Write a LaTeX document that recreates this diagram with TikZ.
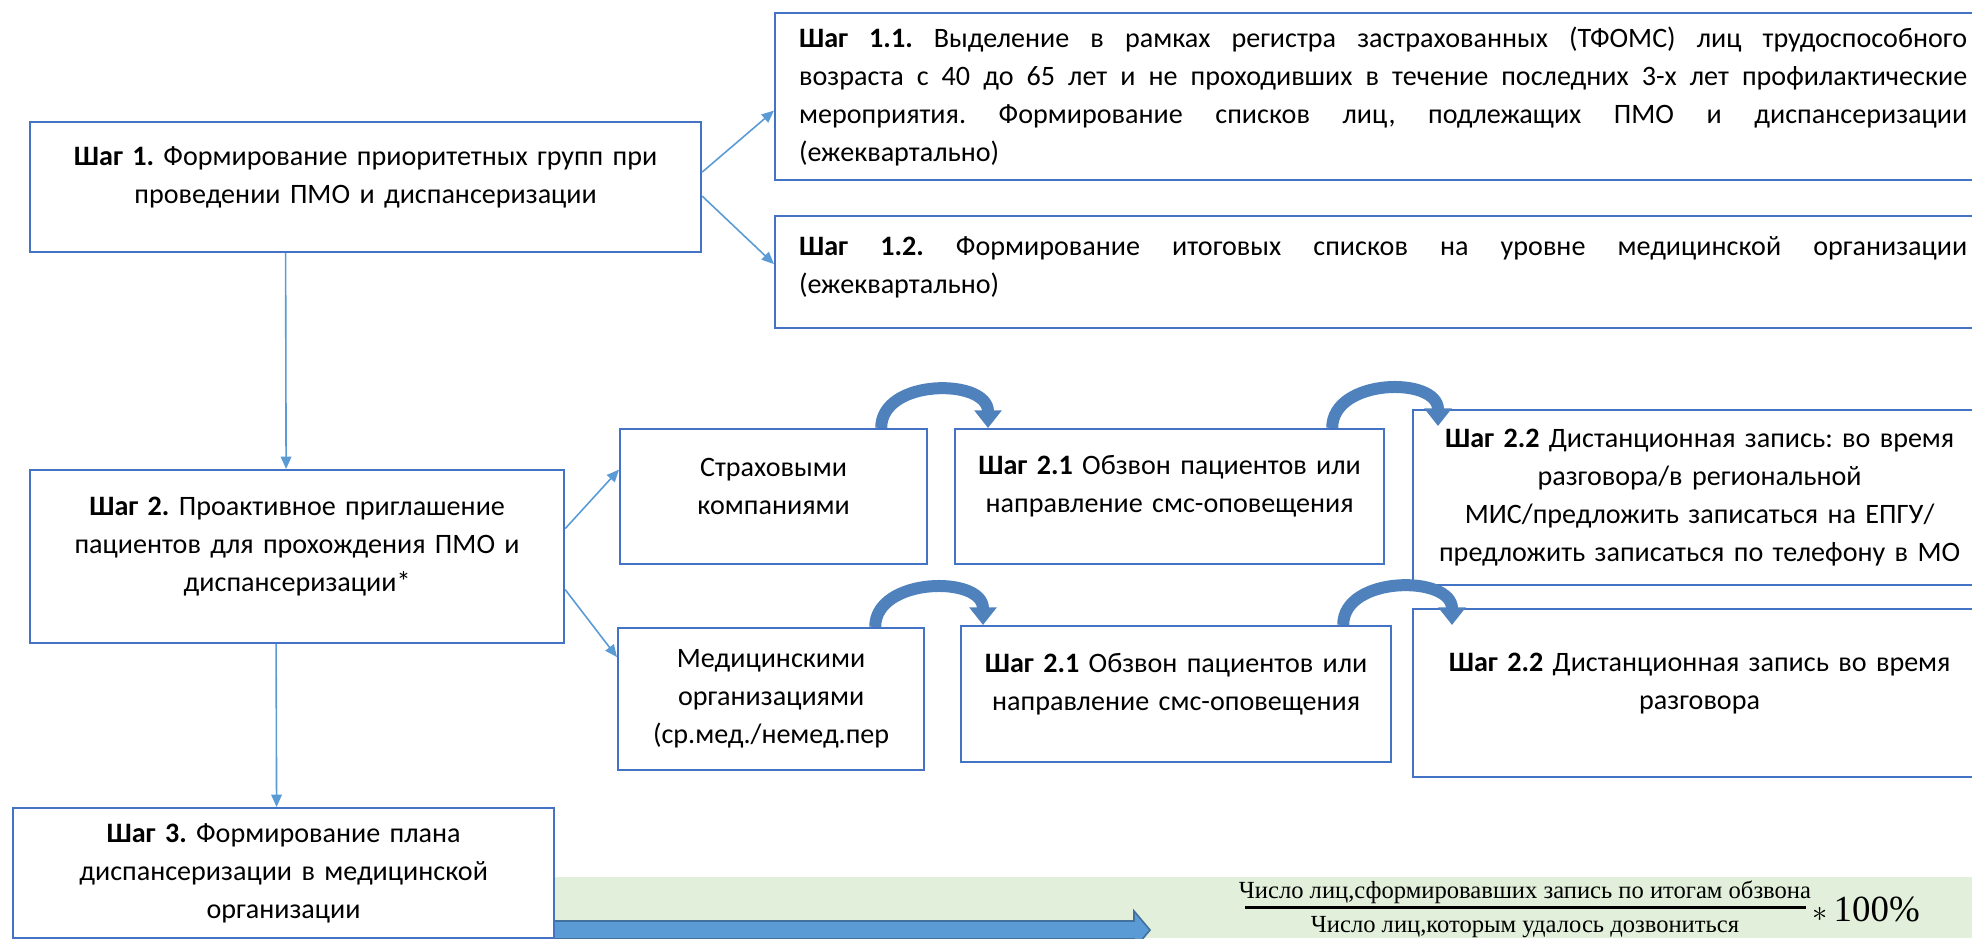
\documentclass[tikz,border=0pt]{standalone}
\usepackage{fontspec}
\setmainfont{Carlito}
\newfontfamily\formfont{Liberation Serif}
\usetikzlibrary{arrows.meta,calc}
\definecolor{boxblue}{HTML}{4472C4}
\definecolor{linkblue}{HTML}{5B9BD5}
\definecolor{bendblue}{HTML}{4F81BD}
\definecolor{blockedge}{HTML}{41719C}
\definecolor{bandgreen}{HTML}{E2EFDA}
\newlength{\pxu}\setlength{\pxu}{0.02cm}
\newcommand{\liftby}[1]{\par\kern#1\pxu}
\hyphenpenalty=10000 \exhyphenpenalty=10000
\frenchspacing

\begin{document}
\begin{tikzpicture}[x=0.02cm, y=-0.02cm, >={Triangle[length=7pt,width=6pt]},
	font=\fontsize{16}{21.6}\selectfont,
	stepbox/.style={draw=boxblue, line width=2.2\pxu, fill=white, anchor=north west, align=center, inner xsep=10\pxu},
	link/.style={->, draw=linkblue, line width=1.6\pxu},
	bendarrow/.style={draw=bendblue, line width=12\pxu, -{Triangle[length=10pt,width=15pt]}},
	blockarrow/.style={fill=linkblue, draw=blockedge, line width=1.6\pxu},
	fractext/.style={font=\formfont\fontsize{14}{16}\selectfont, inner sep=0pt}]
		\useasboundingbox (0,0) rectangle (1972,938);
		\clip (0,0) rectangle (1972,938);
		% green band and wide arrow under step 3
		\fill[bandgreen] (553,877) rectangle (1972,938);
		\draw[blockarrow] (553,921) -- (1134,921) -- (1134,911) -- (1150,930) -- (1134,949) -- (1134,939) -- (553,939) -- cycle;
		% step 1 and its sub-steps
		\node[stepbox, minimum width=671\pxu, minimum height=130\pxu, text width=651\pxu] (s1) at (29,121)
			{\textbf{Шаг 1.} Формирование приоритетных групп при\\проведении ПМО и диспансеризации\liftby{20}};
		\node[stepbox, align=justify, inner xsep=24\pxu, minimum width=1216\pxu, minimum height=167\pxu, text width=1168\pxu] (s11) at (774,12)
			{\textbf{Шаг 1.1.} Выделение в рамках регистра застрахованных (ТФОМС) лиц трудоспособного\linebreak
			возраста с 40 до 65 лет и не проходивших в течение последних 3-х лет профилактические\linebreak
			мероприятия. Формирование списков лиц, подлежащих ПМО и диспансеризации\linebreak
			(ежеквартально)};
		\node[stepbox, align=justify, inner xsep=24\pxu, minimum width=1216\pxu, minimum height=112\pxu, text width=1168\pxu] (s12) at (774,215)
			{\textbf{Шаг 1.2.} Формирование итоговых списков на уровне медицинской организации\linebreak
			(ежеквартально)\liftby{10}};
		% step 2 and the two ways of calling
		\node[stepbox, minimum width=534\pxu, minimum height=173\pxu, text width=514\pxu] (s2) at (29,469)
			{\textbf{Шаг 2.} Проактивное приглашение\\пациентов для прохождения ПМО и\\диспансеризации*\liftby{20}};
		\node[stepbox, minimum width=307\pxu, minimum height=135\pxu, text width=287\pxu] (strah) at (619,428)
			{Страховыми\\компаниями\liftby{20}};
		\node[stepbox, minimum width=429\pxu, minimum height=135\pxu, text width=409\pxu] (s21a) at (954,428)
			{\textbf{Шаг 2.1} Обзвон пациентов или\\направление смс-оповещения\liftby{20}};
		\node[stepbox, minimum width=573\pxu, minimum height=175\pxu, text width=553\pxu] (s22a) at (1412,409)
			{\textbf{Шаг 2.2} Дистанционная запись: во время\\разговора/в региональной\\МИС/предложить записаться на ЕПГУ/\\предложить записаться по телефону в МО};
		\node[stepbox, minimum width=306\pxu, minimum height=142\pxu, text width=286\pxu] (med) at (617,627)
			{Медицинскими\\организациями\\(ср.мед./немед.пер};
		\node[stepbox, minimum width=430\pxu, minimum height=136\pxu, text width=410\pxu] (s21b) at (960,625)
			{\textbf{Шаг 2.1} Обзвон пациентов или\\направление смс-оповещения\liftby{19}};
		\node[stepbox, minimum width=573\pxu, minimum height=168\pxu, text width=553\pxu] (s22b) at (1412,608)
			{\textbf{Шаг 2.2} Дистанционная запись во время\\разговора\liftby{20}};
		% step 3
		\node[stepbox, minimum width=541\pxu, minimum height=130\pxu, text width=521\pxu] (s3) at (12,807)
			{\textbf{Шаг 3.} Формирование плана\\диспансеризации в медицинской\\организации};
		% thin connectors
		\draw[link] ($(s1.east)+(0,-15)$) -- ($(s11.west)+(0,14)$);
		\draw[link] ($(s1.east)+(0,9)$) -- ($(s12.west)+(0,-8)$);
		\draw[link] ($(s1.south)+(-80,0)$) -- ($(s2.north)+(-11,0)$);
		\draw[link] ($(s2.east)+(0,-28)$) -- ($(strah.west)+(0,-27)$);
		\draw[link] ($(s2.east)+(0,33)$) -- ($(med.west)+(0,-42)$);
		\draw[link] ($(s2.south)+(-21,0)$) -- ($(s3.north)+(-7,0)$);
		% curved arrows between the calling steps
		\coordinate (b1s) at ($(strah.north east)+(-47,0)$);
		\coordinate (b1e) at ($(s21a.north west)+(34,0)$);
		\draw[bendarrow] (b1s) .. controls ($(b1s)+(0,-50)$) and ($(b1e)+(0,-50)$) .. (b1e);
		\coordinate (b2s) at ($(s21a.north east)+(-53,0)$);
		\coordinate (b2e) at ($(s22a.north west)+(26,17)$);
		\draw[bendarrow] (b2s) .. controls ($(b2s)+(0,-50)$) and ($(b2e)+(0,-50)$) .. (b2e);
		\coordinate (b3s) at ($(med.north east)+(-50,0)$);
		\coordinate (b3e) at ($(s21b.north west)+(23,0)$);
		\draw[bendarrow] (b3s) .. controls ($(b3s)+(0,-50)$) and ($(b3e)+(0,-50)$) .. (b3e);
		\coordinate (b4s) at ($(s21b.north east)+(-49,0)$);
		\coordinate (b4e) at ($(s22b.north west)+(40,17)$);
		\draw[bendarrow] (b4s) .. controls ($(b4s)+(0,-50)$) and ($(b4e)+(0,-50)$) .. (b4e);
		% share of booked patients
		\node[fractext] (num) at (1525,892) {Число лиц,сформировавших запись по итогам обзвона};
		\node[fractext] (den) at (1525,927) {Число лиц,которым удалось дозвониться};
		\draw[line width=3\pxu] (1245,907) -- (1806,907);
		\node[anchor=west, inner sep=0pt, font=\formfont\fontsize{21}{25}\selectfont] (pct) at (1812,909) {{\fontsize{17}{19}\selectfont$\ast$}\,100\%};
	\end{tikzpicture}
\end{document}
